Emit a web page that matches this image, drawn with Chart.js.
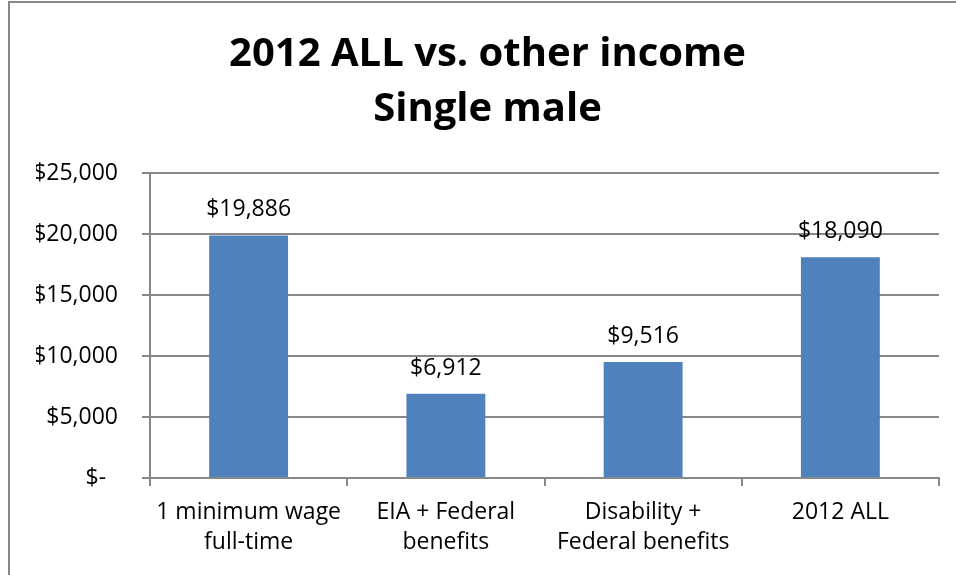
<!DOCTYPE html>
<html>
<head>
<meta charset="utf-8">
<title>2012 ALL vs. other income</title>
<script src="https://cdn.jsdelivr.net/npm/chart.js@4"></script>
<style>
  html, body { margin: 0; padding: 0; background: #fff; overflow: hidden; }
  #wrap { position: relative; width: 956px; height: 575px; }
  #frame { position: absolute; left: 8px; top: 1px; width: 2000px; height: 2000px; border: 2px solid #878787; }
  canvas { position: absolute; left: 0; top: 0; }
</style>
</head>
<body>
<div id="wrap">
  <div id="frame"></div>
  <canvas id="incomeChart" width="956" height="575"></canvas>
</div>
<script>
const categories = [
  ['1 minimum wage', 'full-time'],
  ['EIA + Federal', 'benefits'],
  ['Disability +', 'Federal benefits'],
  ['2012 ALL'],
];
const incomes = [19886, 6912, 9516, 18090];
const yTickLabels = ['$-  ', '$5,000', '$10,000', '$15,000', '$20,000', '$25,000'];

const FONT = '"Open Sans", "Noto Sans", sans-serif';
const LINE = '#888888';

function money(v) {
  return '$' + v.toLocaleString('en-US');
}

// value printed above each bar
const valueLabels = {
  id: 'valueLabels',
  afterDatasetsDraw(chart) {
    const ctx = chart.ctx;
    const meta = chart.getDatasetMeta(0);
    ctx.save();
    ctx.font = '23px ' + FONT;
    ctx.fillStyle = '#000';
    ctx.textAlign = 'center';
    ctx.textBaseline = 'alphabetic';
    meta.data.forEach((bar, i) => {
      ctx.fillText(money(incomes[i]), bar.x, bar.y - 19);
    });
    ctx.restore();
  },
};

const ctx = document.getElementById('incomeChart').getContext('2d');
new Chart(ctx, {
  type: 'bar',
  data: {
    labels: categories,
    datasets: [{
      data: incomes,
      backgroundColor: '#4F81BD',
      borderWidth: 0,
      categoryPercentage: 1,
      barPercentage: 0.4,
    }],
  },
  plugins: [valueLabels],
  options: {
    responsive: false,
    animation: false,
    layout: { padding: { left: 36, right: 17, top: 0, bottom: 0 } },
    plugins: {
      legend: { display: false },
      tooltip: { enabled: false },
      title: {
        display: true,
        text: ['2012 ALL vs. other income', 'Single male'],
        color: '#000',
        font: { family: FONT, size: 40, weight: 'bold', lineHeight: 1.375 },
        padding: { top: 27, bottom: 36 },
      },
    },
    scales: {
      x: {
        offset: true,
        grid: { display: true, drawOnChartArea: false, offset: true, tickLength: 8, color: LINE, lineWidth: 2 },
        border: { display: true, color: LINE, width: 2 },
        ticks: {
          color: '#000',
          padding: 12,
          autoSkip: false,
          maxRotation: 0,
          font: { family: FONT, size: 23, lineHeight: 1.3 },
        },
        afterFit(scale) { scale.height = 97; },
      },
      y: {
        min: 0,
        max: 25000,
        grid: { color: LINE, lineWidth: 2, tickLength: 8 },
        border: { display: true, color: LINE, width: 2 },
        ticks: {
          stepSize: 5000,
          color: '#000',
          padding: 24,
          font: { family: FONT, size: 23 },
          callback: (value) => yTickLabels[value / 5000],
        },
        afterFit(scale) { scale.width = 114; },
      },
    },
  },
});
</script>
</body>
</html>
